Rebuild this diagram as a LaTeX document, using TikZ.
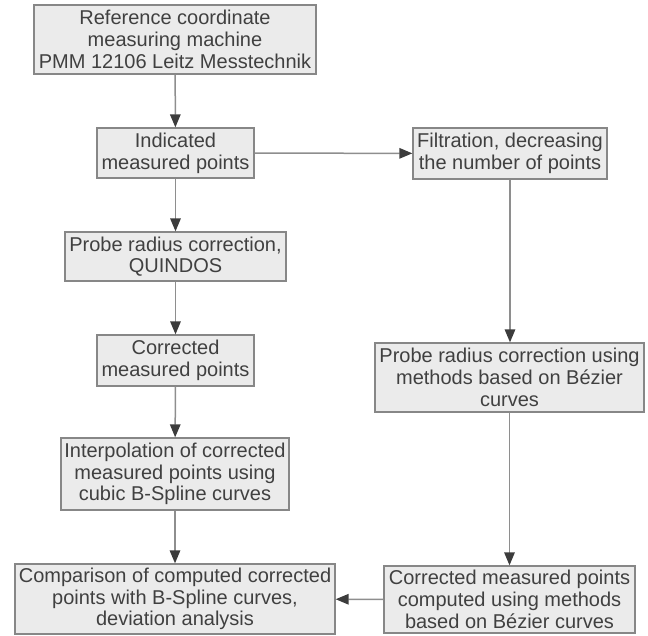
\documentclass[tikz,border=0pt]{standalone}
\usepackage{fontspec}
\setmainfont{Liberation Sans}
\usetikzlibrary{arrows.meta}
\definecolor{boxfill}{HTML}{EBEBEB}
\definecolor{boxline}{HTML}{878787}
\definecolor{conline}{HTML}{8E8E8E}
\definecolor{tipcol}{HTML}{3C3C3C}
\definecolor{txt}{HTML}{404040}
\begin{document}
\begin{tikzpicture}[x=1pt,y=-1pt,
  flowbox/.style={draw=boxline, fill=boxfill, line width=1.3pt, inner sep=0pt,
    align=center, text=txt, font=\fontsize{20}{21.7}\selectfont},
  conn/.style={draw=conline, line width=1.5pt,
    -{Triangle[length=13pt,width=10.5pt,color=tipcol]}}]
\useasboundingbox (0,0) rectangle (648,636);
\node[flowbox, minimum width=282pt, minimum height=69pt] (ref) at (175,39.5)
  {Reference coordinate\\measuring machine\\PMM 12106 Leitz Messtechnik};
\node[flowbox, minimum width=157pt, minimum height=50pt] (ind) at (175.5,153)
  {Indicated\\measured points};
\node[flowbox, minimum width=194pt, minimum height=51pt] (filt) at (510,153.5)
  {Filtration, decreasing\\the number of points};
\node[flowbox, minimum width=221pt, minimum height=49pt] (quin) at (175.5,256.5)
  {Probe radius correction,\\QUINDOS};
\node[flowbox, minimum width=157pt, minimum height=51pt] (corr) at (175.5,360.5)
  {Corrected\\measured points};
\node[flowbox, minimum width=228pt, minimum height=72pt] (interp) at (175,474)
  {Interpolation of corrected\\measured points using\\cubic B-Spline curves};
\node[flowbox, minimum width=320pt, minimum height=70pt] (comp) at (175,599)
  {Comparison of computed corrected\\points with B-Spline curves,\\deviation analysis};
\node[flowbox, minimum width=269pt, minimum height=69pt] (bez) at (509.5,377.5)
  {Probe radius correction using\\methods based on Bézier\\curves};
\node[flowbox, minimum width=251pt, minimum height=67pt] (cmb) at (509.5,599.5)
  {Corrected measured points\\computed using methods\\based on Bézier curves};
\draw[conn] (ref) -- (ind);
\draw[conn] (ind) -- (quin);
\draw[conn] (ind) -- (filt);
\draw[conn] (quin) -- (corr);
\draw[conn] (corr) -- (interp);
\draw[conn] (interp) -- (comp);
\draw[conn] (filt.south) -- (filt.south |- bez.north);
\draw[conn] (bez.south) -- (bez.south |- cmb.north);
\draw[conn] (cmb) -- (comp);
\end{tikzpicture}
\end{document}
